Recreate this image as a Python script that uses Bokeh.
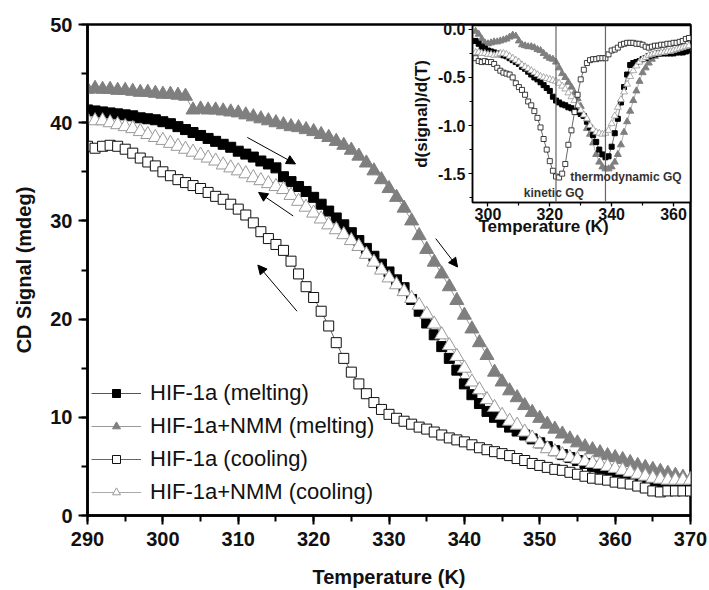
from bokeh.plotting import figure
from bokeh.models import (Arrow, NormalHead, Span, SingleIntervalTicker, Label, Title,
                          ColumnDataSource, Range1d, NumeralTickFormatter)
from bokeh.embed import file_html
from bokeh.resources import INLINE

# ---------------- data: main panel ----------------
temperature = list(range(290, 371))
melt_hif = [41.3, 41.2, 41.1, 41.0, 40.9, 40.8, 40.7, 40.5, 40.4, 40.3,
            40.1, 39.9, 39.6, 39.3, 39.0, 38.7, 38.4, 38.1, 37.8, 37.5,
            37.1, 36.8, 36.5, 36.1, 35.8, 35.4, 34.5, 34.0, 33.5, 33.0,
            32.4, 31.7, 31.0, 30.3, 29.6, 28.8, 28.0, 27.2, 26.4, 25.6,
            24.8, 24.0, 23.2, 22.0, 20.8, 19.6, 18.4, 17.2, 16.0, 14.8,
            13.4, 12.3, 11.4, 10.6, 10.0, 9.5, 9.0, 8.6, 8.2, 7.8,
            7.4, 7.0, 6.6, 6.2, 5.9, 5.6, 5.3, 5.0, 4.8, 4.6,
            4.4, 4.2, 4.0, 3.8, 3.6, 3.4, 3.3, 3.2, 3.1, 3.0,
            2.9]
melt_nmm = [43.4, 43.5, 43.4, 43.4, 43.3, 43.3, 43.2, 43.1, 43.1, 43.0,
            42.9, 42.9, 42.8, 42.7, 41.3, 41.4, 41.3, 41.3, 41.2, 41.1,
            41.0, 40.8, 40.6, 40.4, 40.2, 40.0, 39.8, 39.6, 39.5, 39.3,
            39.1, 38.8, 38.5, 38.1, 37.7, 37.2, 36.6, 35.9, 35.1, 34.2,
            33.3, 32.4, 31.3, 30.0, 28.5, 27.1, 25.8, 24.6, 23.3, 21.9,
            20.4, 19.0, 17.6, 16.3, 14.6, 13.6, 12.7, 12.0, 11.2, 10.5,
            9.9, 9.3, 8.8, 8.3, 7.8, 7.4, 7.0, 6.7, 6.4, 6.1,
            5.9, 5.7, 5.4, 5.1, 4.9, 4.7, 4.5, 4.3, 4.1, 3.9,
            3.7]
cool_hif = [37.6, 37.4, 37.6, 37.7, 37.6, 37.3, 36.9, 36.4, 36.0, 35.6,
            35.0, 34.6, 34.2, 33.9, 33.6, 33.3, 32.9, 32.5, 32.2, 31.7,
            31.2, 30.6, 29.8, 28.9, 28.2, 27.6, 27.0, 25.9, 24.6, 23.3,
            22.2, 20.8, 19.3, 17.6, 16.0, 14.6, 13.4, 12.4, 11.5, 10.8,
            10.3, 9.9, 9.6, 9.3, 9.0, 8.8, 8.5, 8.2, 7.9, 7.7,
            7.5, 7.2, 6.9, 6.7, 6.5, 6.3, 6.1, 5.8, 5.6, 5.3,
            5.1, 4.9, 4.7, 4.6, 4.4, 4.2, 4.0, 3.8, 3.7, 3.6,
            3.4, 3.3, 3.2, 3.0, 2.8, 2.5, 2.4, 2.5, 2.5, 2.5,
            2.5]
cool_nmm = [40.3, 40.2, 40.2, 40.0, 39.8, 39.6, 39.4, 39.1, 38.8, 38.5,
            38.2, 37.9, 37.6, 37.3, 37.0, 36.7, 36.4, 36.1, 35.7, 35.4,
            35.1, 34.8, 34.4, 34.1, 33.8, 33.5, 33.2, 32.6, 32.0, 31.4,
            30.8, 30.2, 29.6, 29.1, 28.6, 28.0, 27.4, 26.6, 25.8, 25.0,
            24.2, 23.5, 22.8, 22.1, 21.4, 20.5, 19.5, 18.4, 17.3, 16.2,
            15.0, 13.6, 12.8, 11.8, 11.0, 10.2, 9.6, 9.2, 8.5, 7.9,
            7.3, 6.8, 6.5, 6.2, 5.9, 5.7, 5.5, 5.3, 5.2, 5.0,
            4.8, 4.6, 4.4, 4.2, 4.0, 3.8, 3.7, 3.6, 3.6, 3.6,
            3.6]
series_labels = ["HIF-1a (melting)", "HIF-1a+NMM (melting)",
                 "HIF-1a (cooling)", "HIF-1a+NMM (cooling)"]

# arrows (start -> end, in data units)
arrow_x0 = [311.2, 317.3, 317.8, 336.2]
arrow_y0 = [38.5, 30.5, 20.8, 28.2]
arrow_x1 = [317.6, 312.7, 312.6, 339.1]
arrow_y1 = [35.8, 32.9, 25.5, 25.3]

# ---------------- data: inset (derivative) ----------------
temperature_inset = list(range(296, 366))
d_melt_hif = [-0.12, -0.15, -0.18, -0.20, -0.22, -0.23, -0.24, -0.25, -0.26, -0.27,
              -0.28, -0.30, -0.32, -0.34, -0.36, -0.39, -0.41, -0.44, -0.47, -0.50,
              -0.52, -0.55, -0.58, -0.61, -0.64, -0.70, -0.74, -0.76, -0.78, -0.79,
              -0.81, -0.82, -0.84, -0.86, -0.88, -0.90, -0.96, -1.02, -1.10, -1.17,
              -1.25, -1.30, -1.33, -1.32, -1.22, -1.08, -0.93, -0.76, -0.60, -0.47,
              -0.37, -0.35, -0.34, -0.33, -0.31, -0.30, -0.28, -0.27, -0.26, -0.25,
              -0.25, -0.25, -0.25, -0.25, -0.25, -0.24, -0.24, -0.24, -0.23, -0.22]
d_melt_nmm = [-0.02, -0.05, -0.10, -0.14, -0.15, -0.14, -0.13, -0.13, -0.12, -0.11,
              -0.10, -0.08, -0.06, -0.07, -0.12, -0.16, -0.17, -0.18, -0.18, -0.19,
              -0.21, -0.22, -0.25, -0.28, -0.30, -0.31, -0.34, -0.40, -0.46, -0.50,
              -0.55, -0.60, -0.66, -0.72, -0.80, -0.90, -1.03, -1.09, -1.18, -1.30,
              -1.38, -1.43, -1.45, -1.45, -1.43, -1.38, -1.30, -1.20, -1.07, -0.96,
              -0.85, -0.74, -0.64, -0.54, -0.45, -0.40, -0.35, -0.31, -0.28, -0.26,
              -0.25, -0.24, -0.24, -0.24, -0.23, -0.23, -0.22, -0.22, -0.21, -0.20]
d_cool_hif = [-0.30, -0.33, -0.34, -0.33, -0.34, -0.34, -0.36, -0.40, -0.43, -0.45,
              -0.46, -0.47, -0.50, -0.56, -0.60, -0.63, -0.68, -0.75, -0.79, -0.85,
              -0.92, -1.02, -1.14, -1.25, -1.37, -1.47, -1.53, -1.54, -1.50, -1.40,
              -1.20, -1.05, -0.86, -0.68, -0.52, -0.42, -0.35, -0.32, -0.31, -0.31,
              -0.30, -0.30, -0.30, -0.26, -0.22, -0.21, -0.19, -0.16, -0.15, -0.14,
              -0.14, -0.14, -0.15, -0.15, -0.16, -0.18, -0.19, -0.18, -0.17, -0.17,
              -0.16, -0.16, -0.15, -0.15, -0.14, -0.14, -0.13, -0.12, -0.10, -0.09]
d_cool_nmm = [-0.24, -0.24, -0.25, -0.25, -0.26, -0.26, -0.27, -0.26, -0.25, -0.25,
              -0.26, -0.28, -0.30, -0.32, -0.34, -0.37, -0.39, -0.41, -0.43, -0.45,
              -0.47, -0.49, -0.50, -0.51, -0.52, -0.53, -0.54, -0.56, -0.59, -0.62,
              -0.66, -0.70, -0.74, -0.79, -0.84, -0.89, -0.93, -1.00, -1.04, -1.07,
              -1.08, -1.09, -1.08, -1.05, -0.98, -0.90, -0.81, -0.73, -0.65, -0.57,
              -0.49, -0.43, -0.38, -0.34, -0.31, -0.29, -0.27, -0.26, -0.25, -0.25,
              -0.24, -0.24, -0.23, -0.23, -0.22, -0.21, -0.20, -0.19, -0.18, -0.17]
gq_temps = [322, 338]
gq_labels = ["kinetic GQ", "thermodynamic GQ"]
gq_label_x = [311.6, 326.6]
gq_label_y = [-1.70, -1.54]

FONT = "Liberation Sans"

# ---------------- main figure ----------------
p = figure(width=709, height=590, x_range=Range1d(290, 370), y_range=Range1d(0, 50),
           output_backend="svg", toolbar_location=None,
           min_border_left=87, min_border_right=19, min_border_top=24, min_border_bottom=75,
           x_axis_label="Temperature (K)", y_axis_label="CD Signal (mdeg)")
p.xgrid.visible = False
p.ygrid.visible = False
p.outline_line_color = "black"
p.outline_line_width = 2.5
p.outline_line_alpha = 1
p.xaxis.ticker = SingleIntervalTicker(interval=10, num_minor_ticks=2)
p.yaxis.ticker = SingleIntervalTicker(interval=10, num_minor_ticks=2)
for ax in p.axis:
    ax.axis_line_width = 2.5
    ax.major_tick_line_width = 2
    ax.minor_tick_line_width = 2
    ax.major_tick_in = 0
    ax.major_tick_out = 9
    ax.minor_tick_in = 0
    ax.minor_tick_out = 6
    ax.major_label_text_font = FONT
    ax.major_label_text_font_style = "bold"
    ax.major_label_text_font_size = "20px"
    ax.major_label_text_color = "#111"
    ax.axis_label_text_font = FONT
    ax.axis_label_text_font_style = "bold"
    ax.axis_label_text_font_size = "20px"
    ax.axis_label_text_color = "#111"
p.xaxis.major_label_standoff = 7
p.xaxis.axis_label_standoff = 17
p.yaxis.major_label_standoff = 6
p.yaxis.axis_label_standoff = 12

src = ColumnDataSource(dict(t=temperature, a=melt_hif, b=melt_nmm, c=cool_hif, d=cool_nmm))

p.line("t", "a", source=src, line_color="#555", line_width=1, legend_label=series_labels[0])
p.scatter("t", "a", source=src, marker="square", size=10, fill_color="black",
          line_color="black", legend_label=series_labels[0])
p.line("t", "b", source=src, line_color="#999", line_width=1, legend_label=series_labels[1])
p.scatter("t", "b", source=src, marker="triangle", size=14, fill_color="#7f7f7f",
          line_color="#7f7f7f", legend_label=series_labels[1])
p.line("t", "c", source=src, line_color="#666", line_width=1, legend_label=series_labels[2])
p.scatter("t", "c", source=src, marker="square", size=10, fill_color="white",
          line_color="#111", line_width=1, legend_label=series_labels[2])
p.line("t", "d", source=src, line_color="#aaa", line_width=1, legend_label=series_labels[3])
p.scatter("t", "d", source=src, marker="triangle", size=14, fill_color="white",
          line_color="#999", line_width=1, legend_label=series_labels[3])

arr_src = ColumnDataSource(dict(x0=arrow_x0, y0=arrow_y0, x1=arrow_x1, y1=arrow_y1))
p.add_layout(Arrow(end=NormalHead(size=9, fill_color="black", line_color="black"),
                   x_start="x0", y_start="y0", x_end="x1", y_end="y1",
                   source=arr_src, line_color="black", line_width=1))

lg = p.legend[0]
lg.location = (4, 10)
lg.border_line_alpha = 0
lg.background_fill_alpha = 0
lg.padding = 0
lg.margin = 0
lg.spacing = 7
lg.glyph_width = 50
lg.glyph_height = 20
lg.label_height = 20
lg.label_standoff = 9
lg.label_text_font = FONT
lg.label_text_font_size = "22px"
lg.label_text_color = "#111"

# ---------------- inset figure (overlaid, same canvas size) ----------------
ins = figure(width=709, height=590,
             x_range=Range1d(295, 365.5), y_range=Range1d(-1.80, 0.04),
             output_backend="svg", toolbar_location=None,
             min_border_left=472, min_border_right=19, min_border_top=25, min_border_bottom=388,
             y_axis_label="d(signal)/d(T)",
             styles={"position": "absolute", "left": "0px", "top": "0px"})
ins.xgrid.visible = False
ins.ygrid.visible = False
ins.background_fill_color = "white"
ins.border_fill_color = None
ins.outline_line_color = "black"
ins.outline_line_width = 1.5
ins.xaxis.ticker = SingleIntervalTicker(interval=20, num_minor_ticks=2)
ins.yaxis.ticker = SingleIntervalTicker(interval=0.5, num_minor_ticks=2)
ins.yaxis.formatter = NumeralTickFormatter(format="0.0")
for ax in ins.axis:
    ax.axis_line_width = 1.5
    ax.major_tick_line_width = 1.2
    ax.minor_tick_line_width = 1.2
    ax.major_tick_in = 0
    ax.major_tick_out = 4
    ax.minor_tick_in = 0
    ax.minor_tick_out = 3
    ax.major_label_text_font = FONT
    ax.major_label_text_font_style = "bold"
    ax.major_label_text_font_size = "16px"
    ax.major_label_text_color = "#111"
    ax.axis_label_text_font = FONT
    ax.axis_label_text_font_style = "bold"
    ax.axis_label_text_font_size = "17px"
    ax.axis_label_text_color = "#111"
ins.xaxis.major_label_standoff = 1
ins.yaxis.major_label_standoff = 3
ins.yaxis.axis_label_standoff = 4

ins.add_layout(Title(text="Temperature (K)", align="left", offset=6, standoff=-16,
                     text_font=FONT, text_font_style="bold", text_font_size="17px",
                     text_color="#111"), "below")

isrc = ColumnDataSource(dict(t=temperature_inset, a=d_melt_hif, b=d_melt_nmm,
                             c=d_cool_hif, d=d_cool_nmm))
for gq in gq_temps:
    ins.add_layout(Span(location=gq, dimension="height", line_color="#666", line_width=1.2))

ins.line("t", "b", source=isrc, line_color="#999", line_width=0.8)
ins.scatter("t", "b", source=isrc, marker="triangle", size=7, fill_color="#7f7f7f",
            line_color="#7f7f7f")
ins.line("t", "a", source=isrc, line_color="#555", line_width=0.8)
ins.scatter("t", "a", source=isrc, marker="square", size=5, fill_color="black", line_color="black")
ins.line("t", "d", source=isrc, line_color="#aaa", line_width=0.8)
ins.scatter("t", "d", source=isrc, marker="triangle", size=7, fill_color="white",
            line_color="#999", line_width=0.8)
ins.line("t", "c", source=isrc, line_color="#444", line_width=0.8)
ins.scatter("t", "c", source=isrc, marker="square", size=5, fill_color="white",
            line_color="#111", line_width=0.8)

for lx, ly, lt in zip(gq_label_x, gq_label_y, gq_labels):
    ins.add_layout(Label(x=lx, y=ly, text=lt, text_baseline="middle", text_font=FONT,
                         text_font_style="bold", text_font_size="12px", text_color="#333"))

open("out.html", "w").write(file_html([p, ins], INLINE))
